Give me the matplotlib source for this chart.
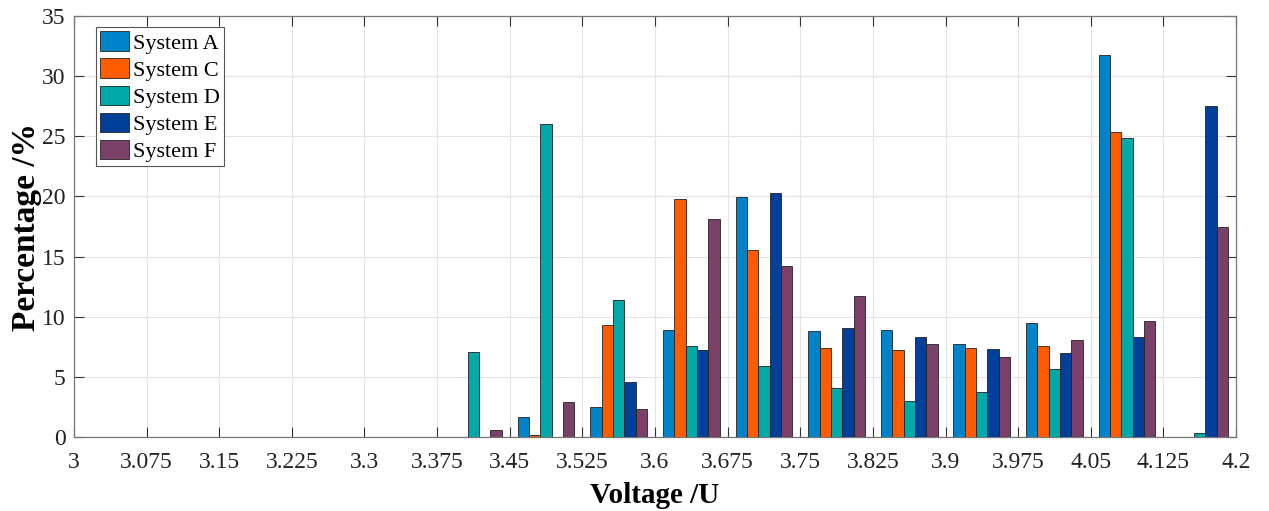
import numpy as np
import matplotlib
matplotlib.use("Agg")
import matplotlib.pyplot as plt

plt.rcParams['font.family'] = ['Liberation Serif', 'DejaVu Serif']

# voltage bins (3.0 .. 4.2, step 0.075)
bin_edges = np.round(np.arange(3.0, 4.2001, 0.075), 3)
bin_centers = bin_edges[:-1] + 0.0375
tick_labels = ["3", "3.075", "3.15", "3.225", "3.3", "3.375", "3.45", "3.525", "3.6",
               "3.675", "3.75", "3.825", "3.9", "3.975", "4.05", "4.125", "4.2"]

systems = ["System A", "System C", "System D", "System E", "System F"]

sys_a = [0, 0, 0, 0, 0, 0, 1.64, 2.47, 8.92, 19.95, 8.78, 8.86, 7.70, 9.50, 31.75, 0]
sys_c = [0, 0, 0, 0, 0, 0, 0.15, 9.31, 19.81, 15.52, 7.42, 7.23, 7.42, 7.54, 25.33, 0]
sys_d = [0, 0, 0, 0, 0, 7.04, 26.0, 11.39, 7.54, 5.93, 4.05, 2.99, 3.71, 5.65, 24.85, 0.33]
sys_e = [0, 0, 0, 0, 0, 0, 0, 4.55, 7.23, 20.31, 9.03, 8.34, 7.29, 6.98, 8.34, 27.51]
sys_f = [0, 0, 0, 0, 0, 0.58, 2.88, 2.30, 18.15, 14.24, 11.72, 7.76, 6.65, 8.09, 9.64, 17.43]

colors = ["#0083C8", "#FF5B00", "#00A8A8", "#00409A", "#7A4068"]

fig = plt.figure(figsize=(12.69, 5.11), dpi=100)
ax = fig.add_axes([0.0583, 0.1448, 0.9157, 0.8239])

bw = 0.0117
for i, (name, vals) in enumerate(zip(systems, [sys_a, sys_c, sys_d, sys_e, sys_f])):
    ax.bar(bin_centers + (i - 2) * bw, vals, width=bw, color=colors[i],
           edgecolor="#222222", linewidth=0.6, label=name, zorder=3)

ax.set_xlim(3.0, 4.2)
ax.set_ylim(0, 35)
ax.set_xticks(bin_edges)
ax.set_xticklabels(tick_labels)
ax.set_yticks(np.arange(0, 36, 5))
ax.tick_params(direction="in", length=7, width=0.8, top=True, right=True,
               labelsize=17, colors="#333333", labelcolor="#222222")
ax.tick_params(axis="x", pad=11)
ax.tick_params(axis="y", pad=6)
ax.grid(True, color="#e3e3e3", linewidth=0.8, zorder=0)
for s in ax.spines.values():
    s.set_color("#777777")
    s.set_linewidth(0.9)

ax.set_xlabel("Voltage /U", fontsize=21, fontweight="bold", labelpad=6)
ax.set_ylabel("Percentage /%", fontsize=24, fontweight="bold", labelpad=0)

leg = ax.legend(loc="upper left", bbox_to_anchor=(0.0189, 0.974), fontsize=16,
                handlelength=1.3, handleheight=0.95, handletextpad=0.15,
                labelspacing=0.22, borderpad=0.2, borderaxespad=0,
                fancybox=False, framealpha=1)
leg.get_frame().set_edgecolor("#555555")
leg.get_frame().set_linewidth(0.8)

fig.savefig("out.png", dpi=100)
